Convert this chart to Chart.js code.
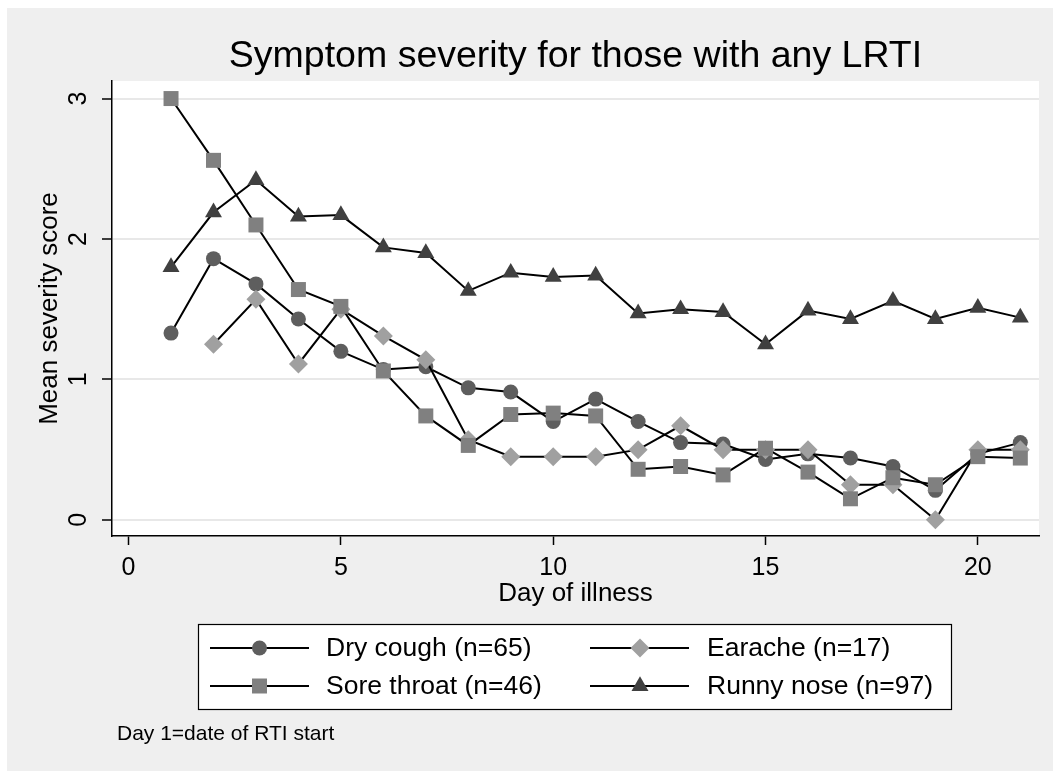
<!DOCTYPE html>
<html>
<head>
<meta charset="utf-8">
<title>Symptom severity</title>
<script src="https://cdn.jsdelivr.net/npm/chart.js@4.4.1/dist/chart.umd.min.js"></script>
<style>
    html, body { margin: 0; padding: 0; background: #ffffff; }
    #wrap { width: 1053px; height: 771px; }
</style>
</head>
<body>
<div id="wrap"><canvas id="severityChart" width="1053" height="771"></canvas></div>
<script>
// 数据
const days = [1, 2, 3, 4, 5, 6, 7, 8, 9, 10, 11, 12, 13, 14, 15, 16, 17, 18, 19, 20, 21];
const dryCough = [1.33, 1.86, 1.68, 1.43, 1.20, 1.07, 1.09, 0.94, 0.91, 0.70, 0.86, 0.70, 0.55, 0.54, 0.43, 0.47, 0.44, 0.38, 0.21, 0.47, 0.55];
const earache = [null, 1.25, 1.57, 1.11, 1.50, 1.31, 1.14, 0.57, 0.45, 0.45, 0.45, 0.50, 0.67, 0.50, 0.50, 0.50, 0.25, 0.25, 0.00, 0.50, 0.50];
const soreThroat = [3.00, 2.56, 2.10, 1.64, 1.52, 1.06, 0.74, 0.53, 0.75, 0.76, 0.74, 0.36, 0.38, 0.32, 0.51, 0.34, 0.15, 0.30, 0.25, 0.45, 0.44];
const runnyNose = [1.80, 2.19, 2.42, 2.16, 2.17, 1.94, 1.90, 1.63, 1.76, 1.73, 1.74, 1.47, 1.50, 1.48, 1.25, 1.49, 1.43, 1.56, 1.43, 1.51, 1.44];
const seriesLabels = ['Dry cough (n=65)', 'Earache (n=17)', 'Sore throat (n=46)', 'Runny nose (n=97)'];
const xTicks = [0, 5, 10, 15, 20];
const yTicks = [0, 1, 2, 3];
const titleText = 'Symptom severity for those with any LRTI';
const noteText = 'Day 1=date of RTI start';

const FONT = "'Liberation Sans', Arial, Helvetica, sans-serif";

// 每个序列的样式
const seriesStyles = [
    { pointStyle: 'circle', pointRadius: 7.5, color: '#5e5e5e', order: 4 },
    { pointStyle: 'rectRot', pointRadius: 9.5, color: '#a0a0a0', order: 3 },
    { pointStyle: 'rect', pointRadius: 10.6, color: '#808080', order: 2 },
    { pointStyle: 'triangle', pointRadius: 9.8, color: '#404040', order: 1 }
];
const seriesValues = [dryCough, earache, soreThroat, runnyNose];

function makeDataset(i) {
    const s = seriesStyles[i];
    return {
        label: seriesLabels[i],
        data: days.map((d, k) => ({ x: d, y: seriesValues[i][k] })),
        borderColor: '#000000',
        borderWidth: 2,
        tension: 0,
        fill: false,
        pointStyle: s.pointStyle,
        pointRadius: s.pointRadius,
        pointHoverRadius: s.pointRadius,
        pointBackgroundColor: s.color,
        pointBorderColor: s.color,
        pointBorderWidth: 0,
        order: s.order
    };
}

// 画图例里的标记
function drawMarker(ctx, s, x, y) {
    ctx.fillStyle = s.color;
    if (Chart.helpers && Chart.helpers.drawPoint) {
        Chart.helpers.drawPoint(ctx, { pointStyle: s.pointStyle, radius: s.pointRadius, rotation: 0, borderWidth: 0 }, x, y);
        return;
    }
    ctx.beginPath();
    ctx.arc(x, y, s.pointRadius, 0, Math.PI * 2);
    ctx.fill();
}

// 背景、标题、y 刻度文字、图例、注释
const stataLook = {
    id: 'stataLook',
    beforeDraw(chart) {
        const { ctx, chartArea: a } = chart;
        ctx.save();
        ctx.fillStyle = '#ffffff';
        ctx.fillRect(0, 0, chart.width, chart.height);
        ctx.fillStyle = '#efefef';
        ctx.fillRect(7, 8, chart.width - 7, chart.height - 8);
        ctx.fillStyle = '#ffffff';
        ctx.fillRect(a.left, a.top, a.right - a.left, a.bottom - a.top);
        ctx.restore();
    },
    afterDraw(chart) {
        const { ctx, chartArea: a, scales } = chart;
        ctx.save();
        ctx.fillStyle = '#000000';
        ctx.textAlign = 'center';
        ctx.textBaseline = 'middle';

        ctx.font = `37.5px ${FONT}`;
        ctx.fillText(titleText, (a.left + a.right) / 2, 57);

        ctx.font = `25px ${FONT}`;
        yTicks.forEach(v => {
            const y = scales.y.getPixelForValue(v);
            ctx.save();
            ctx.translate(79, y);
            ctx.rotate(-Math.PI / 2);
            ctx.fillText(String(v), 0, 0);
            ctx.restore();
        });

        // 图例框
        const box = { x: 198.5, y: 624.5, w: 753, h: 85 };
        ctx.fillStyle = '#ffffff';
        ctx.fillRect(box.x, box.y, box.w, box.h);
        ctx.strokeStyle = '#000000';
        ctx.lineWidth = 1.2;
        ctx.strokeRect(box.x, box.y, box.w, box.h);

        const rows = [648, 686];
        const cols = [
            { x0: 210, x1: 309, mx: 259.5, tx: 326 },
            { x0: 590, x1: 689, mx: 640, tx: 707 }
        ];
        seriesLabels.forEach((lab, i) => {
            const c = cols[i % 2];
            const y = rows[Math.floor(i / 2)];
            ctx.strokeStyle = '#000000';
            ctx.lineWidth = 2;
            ctx.beginPath();
            ctx.moveTo(c.x0, y);
            ctx.lineTo(c.x1, y);
            ctx.stroke();
            drawMarker(ctx, seriesStyles[i], c.mx, y);
            ctx.fillStyle = '#000000';
            ctx.textAlign = 'left';
            ctx.font = `26.5px ${FONT}`;
            ctx.fillText(lab, c.tx, y + 1);
        });

        ctx.font = `21px ${FONT}`;
        ctx.textAlign = 'left';
        ctx.fillText(noteText, 117, 734);
        ctx.restore();
    }
};

let severityChart = null;

function initializeSeverityChart() {
    const ctx = document.getElementById('severityChart');
    if (!ctx) {
        console.error('Chart canvas not found');
        return;
    }

    severityChart = new Chart(ctx.getContext('2d'), {
        type: 'line',
        data: {
            datasets: seriesLabels.map((_, i) => makeDataset(i))
        },
        options: {
            responsive: false,
            animation: false,
            devicePixelRatio: 1,
            layout: { padding: { left: 0, right: 14, top: 81, bottom: 0 } },
            plugins: {
                legend: { display: false },
                title: { display: false },
                tooltip: { enabled: false }
            },
            scales: {
                x: {
                    type: 'linear',
                    min: -0.39,
                    max: 21.44,
                    afterBuildTicks: s => { s.ticks = xTicks.map(v => ({ value: v })); },
                    afterFit: s => { s.height = 235; },
                    grid: { drawOnChartArea: false, tickLength: 9, tickColor: '#000000', tickWidth: 1.5 },
                    border: { display: true, color: '#000000', width: 1.5 },
                    ticks: { color: '#000000', font: { family: FONT, size: 25 }, padding: 8, maxRotation: 0 },
                    title: {
                        display: true,
                        text: 'Day of illness',
                        color: '#000000',
                        font: { family: FONT, size: 26 },
                        padding: { top: 0, bottom: 162 }
                    }
                },
                y: {
                    type: 'linear',
                    min: -0.115,
                    max: 3.125,
                    afterBuildTicks: s => { s.ticks = yTicks.map(v => ({ value: v })); },
                    afterFit: s => { s.width = 112; },
                    grid: { color: '#e8e8e8', lineWidth: 2, tickLength: 10, tickColor: '#000000', tickWidth: 1.5 },
                    border: { display: true, color: '#000000', width: 1.5 },
                    ticks: { display: false },
                    title: {
                        display: true,
                        text: 'Mean severity score',
                        color: '#000000',
                        font: { family: FONT, size: 26 },
                        padding: { top: 34, bottom: 0 }
                    }
                }
            }
        },
        plugins: [stataLook]
    });
}

initializeSeverityChart();
</script>
</body>
</html>
